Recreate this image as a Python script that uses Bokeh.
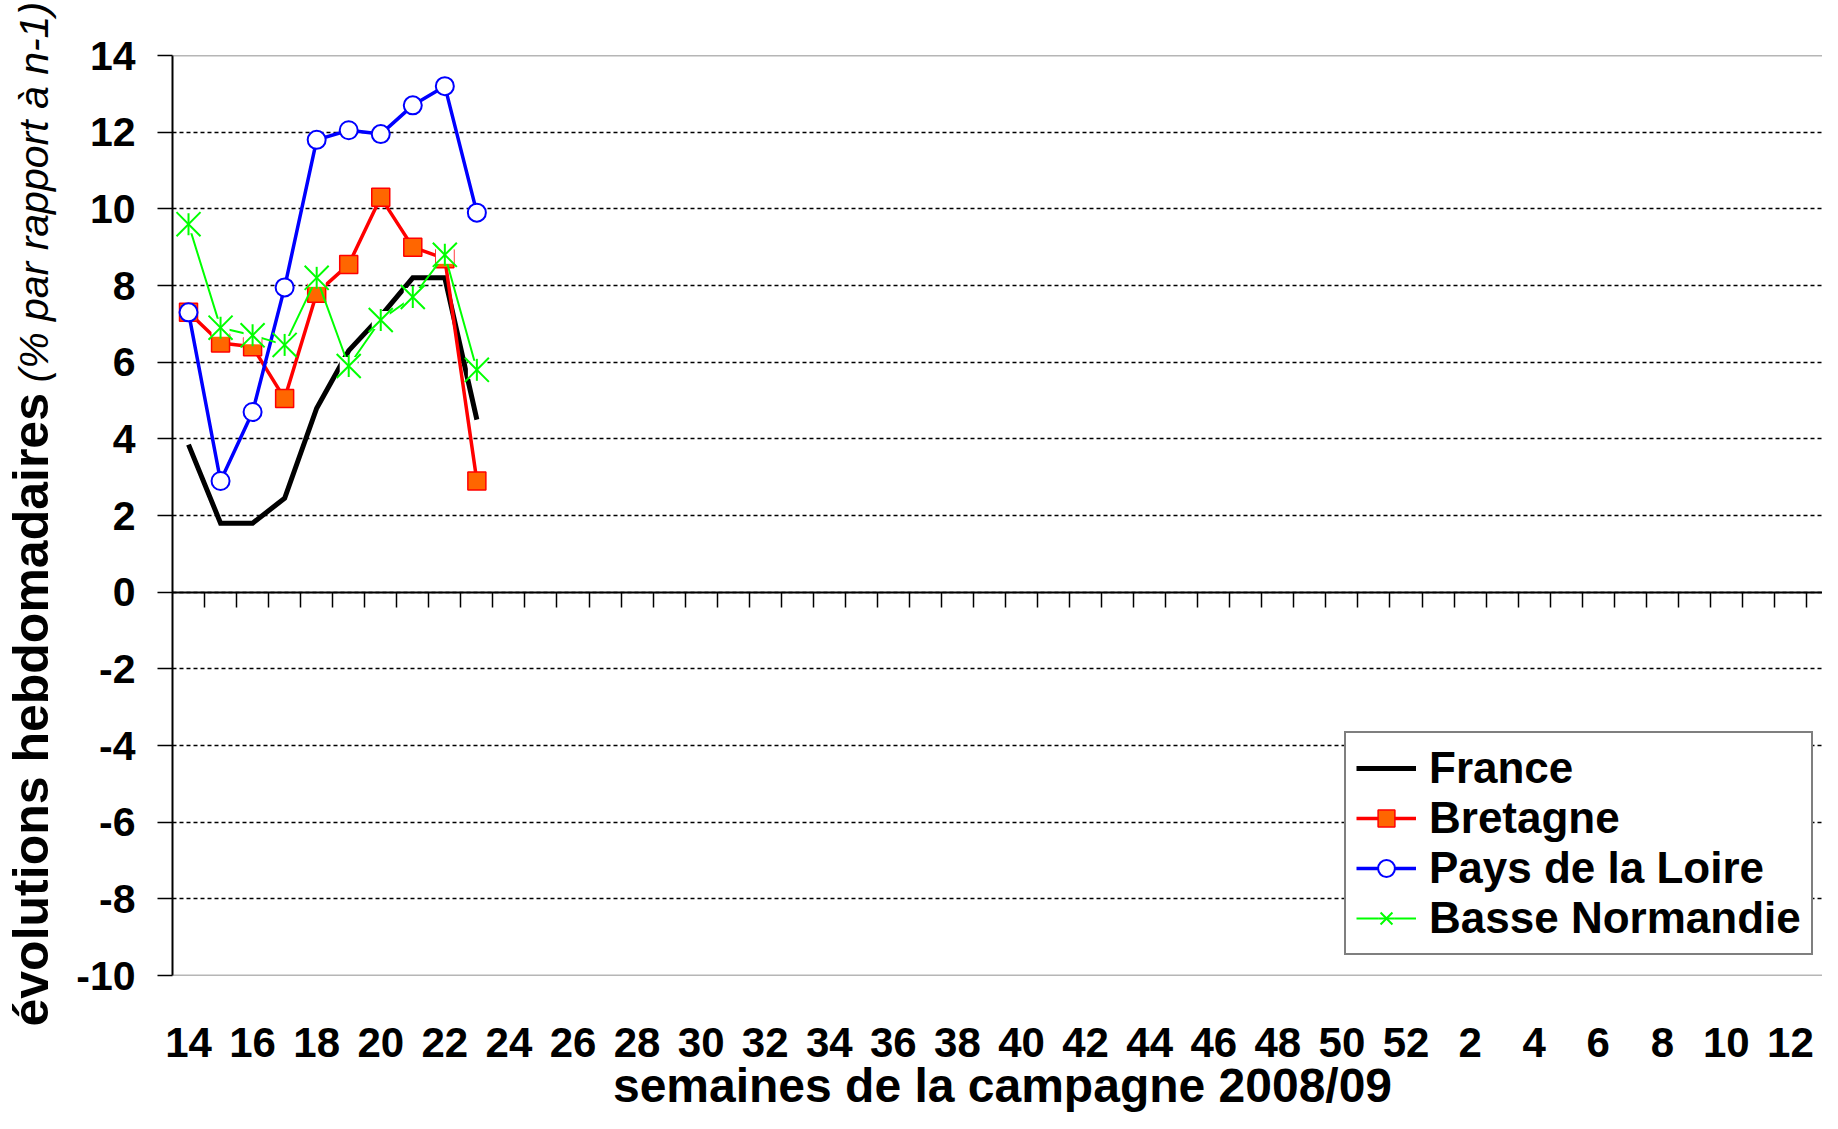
import math
from bokeh.plotting import figure
from bokeh.layouts import row, column
from bokeh.models import (LinearAxis, FixedTicker, Range1d, Legend, LegendItem, Span, Grid)
from bokeh.core.properties import value
from bokeh.embed import file_html
from bokeh.resources import INLINE

# ---------------- data ----------------
weeks = [14, 15, 16, 17, 18, 19, 20, 21, 22, 23, 24, 25, 26, 27, 28, 29, 30, 31, 32, 33,
         34, 35, 36, 37, 38, 39, 40, 41, 42, 43, 44, 45, 46, 47, 48, 49, 50, 51, 52,
         1, 2, 3, 4, 5, 6, 7, 8, 9, 10, 11, 12, 13]
y_ticks = [-10, -8, -6, -4, -2, 0, 2, 4, 6, 8, 10, 12, 14]

france = [3.85, 1.8, 1.8, 2.45, 4.8, 6.3, 7.2, 8.2, 8.2, 4.5]
bretagne = [7.3, 6.5, 6.4, 5.05, 7.8, 8.55, 10.3, 9.0, 8.7, 2.9]
pays_loire = [7.3, 2.9, 4.7, 7.95, 11.8, 12.05, 11.95, 12.7, 13.2, 9.9]
basse_normandie = [9.6, 6.9, 6.7, 6.45, 8.2, 5.9, 7.1, 7.7, 8.8, 5.8]

series_names = ["France", "Bretagne", "Pays de la Loire", "Basse Normandie"]
x_title = "semaines de la campagne 2008/09"
y_title_bold = "évolutions hebdomadaires"
y_title_ital = "(% par rapport à n-1)"

# ---------------- layout constants ----------------
TOTAL_W, TOTAL_H = 1822, 1113
YT_W = 60                 # width of the y-title strip
MAIN_W = TOTAL_W - YT_W   # 1762
MAIN_H = 1000
FL = 172 - YT_W           # left border of main figure
FT, FB = 55, 25           # frame 55..975 (920 px)
XT_H = TOTAL_H - MAIN_H   # 113
XT_TOP = 66               # x-title figure: frame top at 1000+66 = 1066
FONT = "Liberation Sans"

x_range = Range1d(-0.5, 51.0)
y_range = Range1d(-10, 14)


def strip_grids(fig):
    fig.center = [r for r in fig.center if not isinstance(r, Grid)]


# ---------------- main figure ----------------
p = figure(width=MAIN_W, height=MAIN_H, output_backend="svg", toolbar_location=None,
           x_range=x_range, y_range=y_range,
           min_border_left=FL, min_border_right=0, min_border_top=FT,
           min_border_bottom=FB, x_axis_location=None, y_axis_location=None)
strip_grids(p)
p.background_fill_color = "white"
p.border_fill_color = "white"
p.outline_line_color = None

yaxis = LinearAxis(ticker=FixedTicker(ticks=y_ticks, minor_ticks=[]),
                   major_label_overrides={t: str(t) for t in y_ticks})
yaxis.axis_line_color = "black"
yaxis.axis_line_width = 2
yaxis.major_tick_out = 15
yaxis.major_tick_in = 0
yaxis.major_tick_line_width = 1.5
yaxis.minor_tick_line_color = None
yaxis.major_label_standoff = 22
yaxis.major_label_text_font = FONT
yaxis.major_label_text_font_style = "bold"
yaxis.major_label_text_font_size = "41px"
yaxis.major_label_text_color = "black"
p.add_layout(yaxis, "left")

grid = Grid(dimension=1, ticker=yaxis.ticker)
grid.grid_line_color = "black"
grid.grid_line_width = 1.5
grid.grid_line_dash = "4 3"
p.add_layout(grid)

for loc in (y_ticks[-1], y_ticks[0]):
    p.add_layout(Span(location=loc, dimension="width", line_color="#6e6e6e",
                      line_width=1.5))

bounds = [i + 0.5 for i in range(len(weeks) - 1)]
zaxis = LinearAxis(ticker=FixedTicker(ticks=bounds, minor_ticks=[]), fixed_location=0,
                   major_label_overrides={b: "" for b in bounds})
zaxis.axis_line_color = "black"
zaxis.axis_line_width = 2
zaxis.major_tick_in = 15
zaxis.major_tick_out = 0
zaxis.major_tick_line_width = 1.5
zaxis.minor_tick_line_color = None
zaxis.major_label_text_font_size = "0px"
zaxis.major_label_standoff = 0
p.add_layout(zaxis, "above")

xs = list(range(len(france)))

r_fr = p.line(xs, france, line_color="black", line_width=5, line_join="miter")

r_br_l = p.line(xs, bretagne, line_color="#ff0000", line_width=3.5)
r_br_m = p.scatter(xs, bretagne, marker="square", size=18, fill_color="#ff6600",
                   line_color="#ff0000", line_width=1.5)

r_pl_l = p.line(xs, pays_loire, line_color="#0000ff", line_width=3.5)
r_pl_m = p.scatter(xs, pays_loire, marker="circle", size=18, fill_color="white",
                   line_color="#0000ff", line_width=2)

r_bn_l = p.line(xs, basse_normandie, line_color="#00ff00", line_width=2)
r_bn_bg = p.scatter(xs, basse_normandie, marker="square", size=18, fill_color="white",
                    line_color=None)
r_bn_x = p.scatter(xs, basse_normandie, marker="x", size=34, line_color="#00ff00",
                   line_width=2)
r_bn_v = p.scatter(xs, basse_normandie, marker="dash", size=22, angle=math.pi / 2,
                   line_color="#00ff00", line_width=2)

legend = Legend(items=[
    LegendItem(label=series_names[0], renderers=[r_fr]),
    LegendItem(label=series_names[1], renderers=[r_br_l, r_br_m]),
    LegendItem(label=series_names[2], renderers=[r_pl_l, r_pl_m]),
    LegendItem(label=series_names[3], renderers=[r_bn_l, r_bn_bg, r_bn_x, r_bn_v]),
], location=(1172, 20))
legend.label_text_font = FONT
legend.label_text_font_style = "bold"
legend.label_text_font_size = "44px"
legend.label_text_color = "black"
legend.label_standoff = 13
legend.glyph_width = 60
legend.glyph_height = 42
legend.spacing = 0
legend.padding = 10
legend.margin = 0
legend.border_line_color = "black"
legend.border_line_width = 2
legend.background_fill_color = "white"
legend.background_fill_alpha = 1
p.add_layout(legend)

# ---------------- x tick labels + x title (below main) ----------------
xt = figure(width=MAIN_W, height=XT_H, output_backend="svg", toolbar_location=None,
            x_range=x_range, y_range=Range1d(0, XT_H - XT_TOP),
            min_border_left=FL, min_border_right=0, min_border_top=XT_TOP,
            min_border_bottom=0, x_axis_location=None, y_axis_location=None)
strip_grids(xt)
xt.outline_line_color = None
xt.background_fill_color = "white"
xt.border_fill_color = "white"

label_pos = [i for i in range(len(weeks)) if i % 2 == 0]
xaxis = LinearAxis(ticker=FixedTicker(ticks=label_pos, minor_ticks=[]),
                   major_label_overrides={i: str(weeks[i]) for i in label_pos})
xaxis.axis_line_color = None
xaxis.major_tick_line_color = None
xaxis.minor_tick_line_color = None
xaxis.major_tick_out = 0
xaxis.major_tick_in = 0
xaxis.major_label_standoff = 10
xaxis.major_label_text_font = FONT
xaxis.major_label_text_font_style = "bold"
xaxis.major_label_text_font_size = "42px"
xaxis.major_label_text_color = "black"
xt.add_layout(xaxis, "above")

title_x = -0.5 + (1002 - 172) * (51.0 - (-0.5)) / 1650
xt.text(x=[title_x], y=[TOTAL_H - 1085], text=[x_title], text_font=value(FONT),
        text_font_style="bold", text_font_size="48px", text_color="black",
        text_align="center", text_baseline="alphabetic")

# ---------------- y title strip ----------------
yt = figure(width=YT_W, height=TOTAL_H, output_backend="svg", toolbar_location=None,
            x_range=Range1d(0, YT_W), y_range=Range1d(0, TOTAL_H),
            min_border_left=0, min_border_right=0, min_border_top=0, min_border_bottom=0,
            x_axis_location=None, y_axis_location=None)
strip_grids(yt)
yt.outline_line_color = None
yt.background_fill_color = "white"
yt.border_fill_color = "white"
yt.text(x=[30], y=[TOTAL_H - 1026], text=[y_title_bold], angle=math.pi / 2,
        text_font=value(FONT), text_font_style="bold", text_font_size="50px",
        text_color="black", text_align="left", text_baseline="alphabetic")
yt.text(x=[33], y=[TOTAL_H - 382], text=[y_title_ital], angle=math.pi / 2,
        text_font=value(FONT), text_font_style="italic", text_font_size="41px",
        text_color="black", text_align="left", text_baseline="alphabetic")

layout = row(yt, column(p, xt, spacing=0), spacing=0)

open("out.html", "w").write(file_html(layout, INLINE))
